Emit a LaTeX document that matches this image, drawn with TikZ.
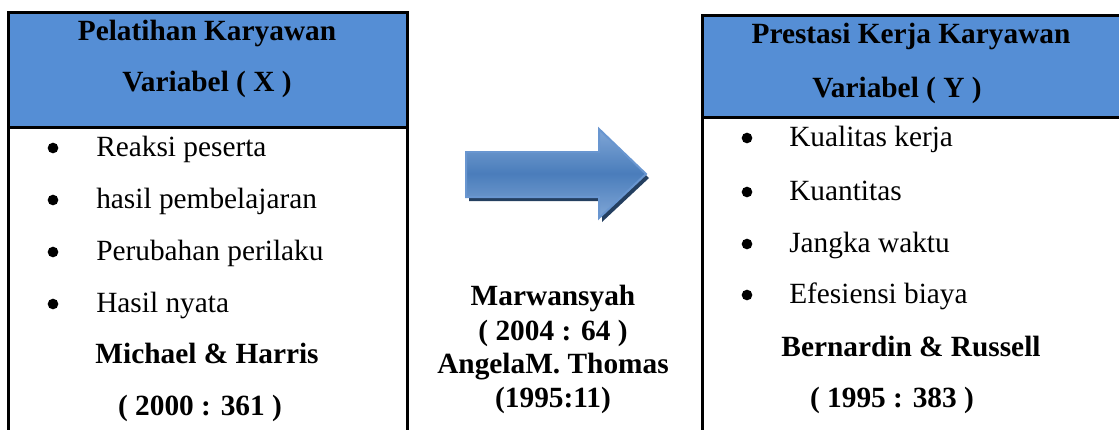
\documentclass[tikz,border=0pt]{standalone}
\usepackage{fontspec}
\setmainfont{Liberation Serif}
\definecolor{hdrblue}{RGB}{85,142,213}
\definecolor{arrowtop}{RGB}{128,166,214}
\definecolor{arrowmid}{RGB}{74,125,187}
\definecolor{arrowedge}{RGB}{105,150,208}
\definecolor{arrowshade}{RGB}{36,63,96}
\begin{document}
\begin{tikzpicture}[x=0.75pt,y=0.75pt,yscale=-1,xscale=1,
  every node/.style={inner sep=0.75pt,font=\fontsize{22}{26}\selectfont},
  hdr/.style={font=\fontsize{22}{26}\selectfont\bfseries},
  dot/.style={circle, fill=black, inner sep=0pt, minimum size=8pt},
  boxline/.style={line width=2.25}]
\useasboundingbox (0,0) rectangle (1119,429);
\clip (0,0) rectangle (1119,429);

%Shape: Rectangle [header X]
\draw [boxline, fill=hdrblue] (8,12) rectangle (407,127) ;
%Straight Lines [body X]
\draw [boxline] (8,127) -- (8,440) (407,127) -- (407,440) ;
%Shape: Rectangle [header Y]
\draw [boxline, fill=hdrblue] (702,15) rectangle (1130,117) ;
%Straight Lines [body Y]
\draw [boxline] (702,117) -- (702,440) ;

%Shape: Right Arrow [shadow]
\fill [arrowshade] (469,156) -- (602,156) -- (602,133) -- (649,178) -- (602,222) -- (602,201) -- (469,201) -- cycle ;
%Shape: Right Arrow
\draw [arrowedge, line width=1.5, top color=arrowtop, bottom color=arrowtop, middle color=arrowmid] (466,152) -- (599,152) -- (599,129) -- (646,174) -- (599,218) -- (599,197) -- (466,197) -- cycle ;

% Text Node
\draw (207,40) node [anchor=base, hdr] (hdrXa) {Pelatihan Karyawan};
% Text Node
\draw (207,91) node [anchor=base, hdr] (hdrXb) {Variabel ( X )};
% Text Node
\draw (911,43) node [anchor=base, hdr] (hdrYa) {Prestasi Kerja Karyawan};
% Text Node
\draw (897,97) node [anchor=base, hdr] (hdrYb) {Variabel ( Y )};

% Bullet list X
\foreach \y/\txt [count=\i] in {156/Reaksi peserta, 208/hasil pembelajaran, 260/Perubahan perilaku, 312/Hasil nyata}
  {
  \node [dot] (bulX\i) at (53,\y-8) {};
  \draw (95,\y) node [anchor=base west] (itemX\i) {\txt};
  }
% Bullet list Y
\foreach \y/\txt [count=\i] in {146/Kualitas kerja, 200/Kuantitas, 252/Jangka waktu, 303/Efesiensi biaya}
  {
  \node [dot] (bulY\i) at (747,\y-8) {};
  \draw (788,\y) node [anchor=base west] (itemY\i) {\txt};
  }

% Text Node
\draw (207,363) node [anchor=base, hdr] (srcXa) {Michael \& Harris};
% Text Node
\draw (200,415) node [anchor=base, hdr] (srcXb) {( 2000 : 361 )};
% Text Node
\draw (911,356) node [anchor=base, hdr] (srcYa) {Bernardin \& Russell};
% Text Node
\draw (892,407) node [anchor=base, hdr] (srcYb) {( 1995 : 383 )};

% Text Node
\draw (553,305) node [anchor=base, hdr] (srcMa) {Marwansyah};
% Text Node
\draw (553,340) node [anchor=base, hdr] (srcMb) {( 2004 : 64 )};
% Text Node
\draw (553,373) node [anchor=base, hdr] (srcMc) {AngelaM. Thomas};
% Text Node
\draw (553,407) node [anchor=base, hdr] (srcMd) {(1995:11)};

\end{tikzpicture}
\end{document}
